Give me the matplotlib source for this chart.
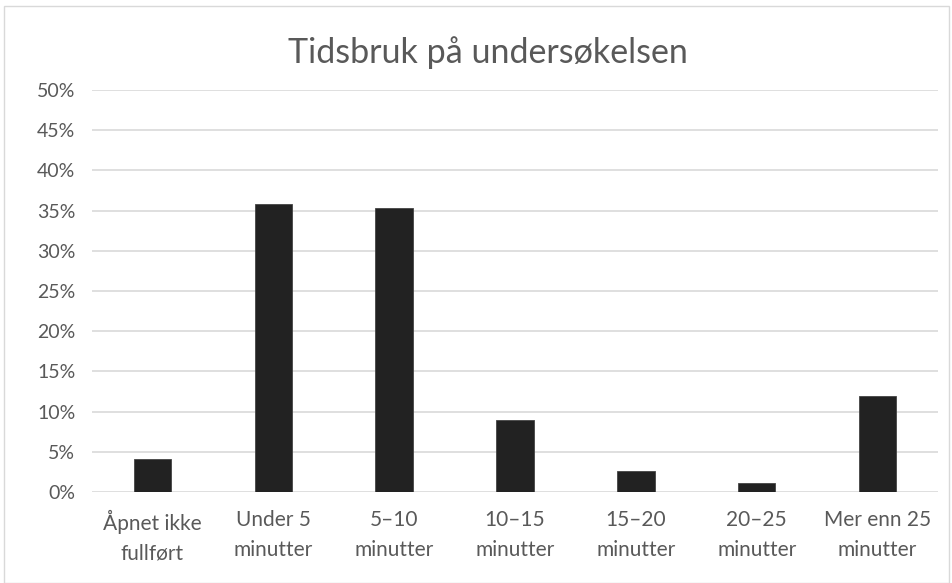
import matplotlib
matplotlib.use("Agg")
import matplotlib.pyplot as plt
from matplotlib.ticker import FuncFormatter, MultipleLocator
from matplotlib.patches import Rectangle

categories = ["Åpnet ikke\nfullført", "Under 5\nminutter", "5–10\nminutter", "10–15\nminutter",
              "15–20\nminutter", "20–25\nminutter", "Mer enn 25\nminutter"]
values = [4.1, 35.8, 35.3, 9.0, 2.65, 1.1, 12.0]
title = "Tidsbruk på undersøkelsen"

plt.rcParams['font.family'] = ['Lato', 'DejaVu Sans']
txt = "#595959"

fig = plt.figure(figsize=(9.53, 5.83), dpi=100)
fig.patches.append(Rectangle((0.004, 0.0), 0.992, 0.99, transform=fig.transFigure,
                             fill=False, edgecolor="#d9d9d9", linewidth=1))
ax = fig.add_axes([92/953, 1 - 492/583, (938-92)/953, (492-90)/583])

x = range(len(categories))
ax.bar(x, values, width=0.31, color="#222222", edgecolor="#444444", linewidth=0.6, zorder=3)

ax.set_ylim(0, 50)
ax.set_xlim(-0.5, len(categories) - 0.5)
ax.yaxis.set_major_locator(MultipleLocator(5))
ax.yaxis.set_major_formatter(FuncFormatter(lambda v, p: f"{v:.0f}%"))
ax.grid(axis="y", color="#d9d9d9", linewidth=1.2, zorder=0)
for s in ax.spines.values():
    s.set_visible(False)
ax.tick_params(axis="both", length=0, colors=txt)
ax.tick_params(axis="y", pad=12, labelsize=14)
ax.tick_params(axis="x", pad=13, labelsize=15)
ax.set_xticks(list(x))
ax.set_xticklabels(categories, linespacing=1.6)

fig.text(488/953, 1 - 53/583, title, ha="center", va="center", fontsize=24.5, color=txt)

fig.savefig("out.png", dpi=100)
